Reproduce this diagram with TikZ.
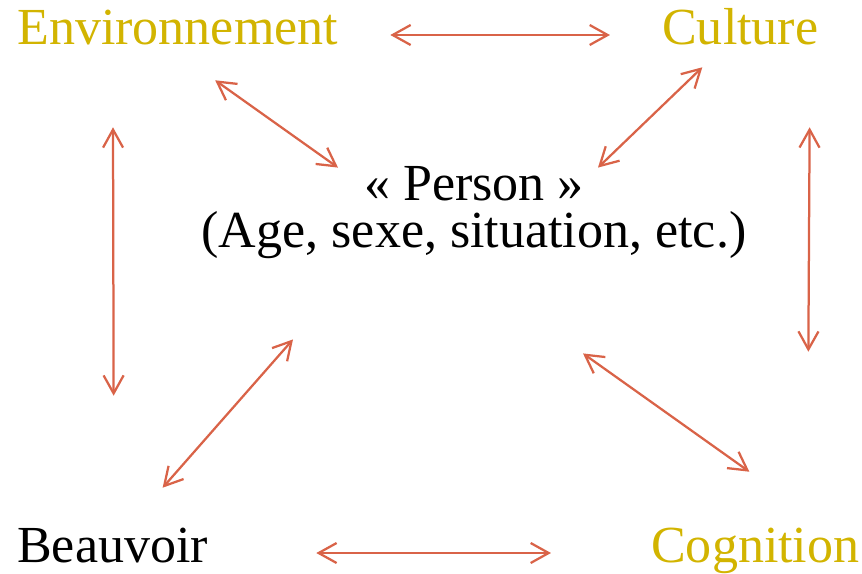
\documentclass[tikz,border=0pt]{standalone}
\usepackage{fontspec}
\setmainfont{Liberation Serif}
\usetikzlibrary{arrows.meta}

\definecolor{gold}{RGB}{210,180,0}
\definecolor{coral}{RGB}{217,99,72}

\tikzset{
    word/.style={inner sep=0, anchor=base west, text height=0.8cm, text depth=0.35cm,
        font=\fontsize{37}{44}\selectfont},
    link/.style={draw=coral, line width=1.6pt,
        {Straight Barb[length=0.45cm,width=0.5cm]}-{Straight Barb[length=0.45cm,width=0.5cm]}}
}

\begin{document}
\begin{tikzpicture}[x=0.025cm, y=-0.025cm]
    \useasboundingbox (0,0) rectangle (862,573) ;

    % the four corners
    \node[word, gold] (env) at (17,44) {Environnement} ;
    \node[word, gold] (cul) at (662,44) {Culture} ;
    \node[word] (bea) at (17,562) {Beauvoir} ;
    \node[word, gold] (cog) at (651,562) {Cognition} ;

    % the person in the middle
    \node[inner sep=0, align=center, font=\fontsize{37}{33.4}\selectfont] (per) at (474,213)
        {«~Person~»\\(Age, sexe, situation, etc.)} ;

    % arrows
    \draw[link, shorten <=1.3cm, shorten >=1.3cm] (env.east) -- (cul.west) ;
    \draw[link, shorten <=2.7cm, shorten >=2.5cm] (bea.east) -- (cog.west) ;
    \draw[link] ([shift={(96,69)}]env.south west) -- ([shift={(1,-134)}]bea.north) ;
    \draw[link] ([shift={(-9,69)}]cul.south east) -- ([shift={(53,-178)}]cog.north) ;
    \draw[link] ([shift={(37.5,22)}]env.south) -- ([shift={(-136,1)}]per.north) ;
    \draw[link] ([shift={(-38,9)}]cul.south) -- ([shift={(124,1)}]per.north) ;
    \draw[link] ([shift={(50,-42)}]bea.north) -- ([shift={(-181,80)}]per.south) ;
    \draw[link] ([shift={(109,94)}]per.south) -- ([shift={(-6,-58)}]cog.north) ;

\end{tikzpicture}
\end{document}
